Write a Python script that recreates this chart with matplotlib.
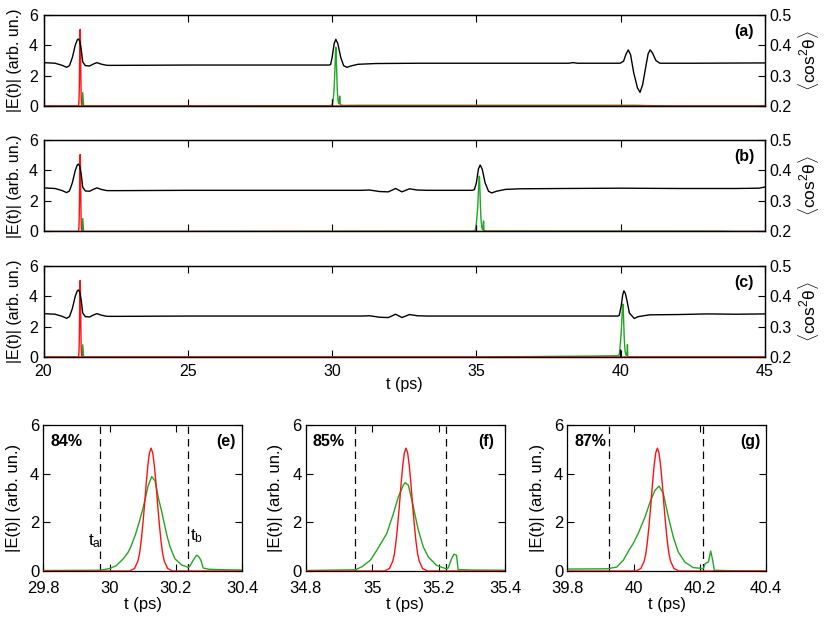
import matplotlib
matplotlib.use('Agg')
import matplotlib.pyplot as plt

plt.rcParams['font.family'] = ['Liberation Sans', 'DejaVu Sans']
plt.rcParams['mathtext.fontset'] = 'custom'
plt.rcParams['mathtext.rm'] = 'Liberation Sans'
plt.rcParams['mathtext.it'] = 'Liberation Sans:italic'
plt.rcParams['mathtext.bf'] = 'Liberation Sans:bold'
plt.rcParams['font.size'] = 11

RED = '#ff1010'
GREEN = '#22a522'

# ---------------- data: top panels, black <cos^2 theta> ----------------
cos2_head_t = [20.0, 20.4, 20.65, 20.8, 20.9, 21.0, 21.1, 21.17, 21.21, 21.26, 21.31,
               21.36, 21.45, 21.6, 21.72, 21.85, 22.0, 22.2, 22.6, 25.0]
cos2_head_v = [0.343, 0.341, 0.334, 0.3275, 0.333, 0.36, 0.40, 0.418, 0.421, 0.413, 0.385,
               0.345, 0.333, 0.332, 0.338, 0.343, 0.338, 0.334, 0.334, 0.335]

cos2_a_t = [29.9, 29.95, 30.0, 30.07, 30.13, 30.2, 30.3, 30.4, 30.51, 30.65, 30.9, 31.5,
            33.0, 35.0, 37.0, 38.2, 38.35, 38.5, 39.0, 39.98, 40.1, 40.18, 40.26, 40.34,
            40.45, 40.58, 40.67, 40.76, 40.87, 40.95, 41.02, 41.1, 41.22, 41.36, 42.5, 45.0]
cos2_a_v = [0.335, 0.337, 0.36, 0.405, 0.42, 0.405, 0.36, 0.333, 0.3275, 0.332, 0.3375, 0.34,
            0.341, 0.341, 0.341, 0.341, 0.343, 0.341, 0.341, 0.341, 0.348, 0.37, 0.385, 0.37,
            0.31, 0.26, 0.245, 0.27, 0.33, 0.372, 0.385, 0.375, 0.35, 0.341, 0.341, 0.342]

cos2_wig_t = [31.0, 31.3, 31.65, 31.95, 32.2, 32.42, 32.68, 32.95, 33.3]
cos2_wig_v = [0.335, 0.336, 0.331, 0.330, 0.341, 0.330, 0.340, 0.336, 0.335]

cos2_b_t = [34.85, 34.93, 35.0, 35.07, 35.13, 35.2, 35.3, 35.42, 35.53, 35.7, 36.0, 36.5,
            38.0, 40.0, 42.0, 44.0, 44.8, 45.0]
cos2_b_v = [0.335, 0.337, 0.36, 0.405, 0.418, 0.405, 0.36, 0.332, 0.3265, 0.332, 0.338, 0.340,
            0.341, 0.342, 0.341, 0.341, 0.342, 0.346]

cos2_c_t = [39.9, 39.95, 40.02, 40.07, 40.11, 40.16, 40.22, 40.3, 40.47, 40.6, 41.0, 42.0,
            43.0, 44.0, 45.0]
cos2_c_v = [0.335, 0.337, 0.37, 0.405, 0.418, 0.41, 0.385, 0.345, 0.327, 0.333, 0.339, 0.340,
            0.342, 0.341, 0.342]

# short black marks near the axis in the top panels
mark_t = [30.0, 34.99, 39.96]
mark_h = [0.44, 0.40, 0.50]

# ---------------- data: red input pulse (offset from its centre) ----------------
red_off = [-0.065, -0.05, -0.04, -0.035, -0.03, -0.025, -0.02, -0.015, -0.01, -0.005, 0.0,
           0.005, 0.01, 0.015, 0.02, 0.025, 0.03, 0.035, 0.04, 0.05, 0.065]
red_val = [0.0, 0.10, 0.40, 0.70, 1.22, 1.90, 2.69, 3.55, 4.31, 4.85, 5.05,
           4.85, 4.31, 3.55, 2.69, 1.90, 1.22, 0.70, 0.40, 0.10, 0.0]
red_center_top = 21.27
red_center_e = 30.125
red_center_f = 35.102
red_center_g = 40.072

# ---------------- data: green output pulses (zoomed panels) ----------------
green_e_t = [29.80, 29.97, 30.00, 30.02, 30.041, 30.055, 30.064, 30.078, 30.089, 30.10, 30.108,
             30.116, 30.127, 30.137, 30.147, 30.156, 30.164, 30.172, 30.182, 30.197, 30.217,
             30.237, 30.243, 30.25, 30.257, 30.262, 30.268, 30.275, 30.282, 30.30, 30.35, 30.40]
green_e_v = [0.02, 0.03, 0.10, 0.22, 0.50, 0.75, 1.00, 1.50, 2.00, 2.55, 3.00,
             3.50, 3.88, 3.70, 3.00, 2.50, 2.00, 1.50, 1.00, 0.50, 0.25,
             0.15, 0.22, 0.40, 0.55, 0.65, 0.60, 0.45, 0.12, 0.07, 0.05, 0.04]

green_f_t = [34.80, 34.95, 34.97, 34.984, 34.995, 35.014, 35.044, 35.064, 35.079, 35.094, 35.099,
             35.109, 35.124, 35.139, 35.154, 35.169, 35.194, 35.221, 35.229, 35.239, 35.246,
             35.254, 35.259, 35.30, 35.40]
green_f_v = [0.02, 0.05, 0.18, 0.33, 0.45, 0.85, 1.54, 2.36, 3.05, 3.53, 3.63,
             3.53, 2.64, 1.68, 0.99, 0.58, 0.23, 0.10, 0.12, 0.50, 0.69,
             0.65, 0.06, 0.04, 0.03]

green_g_t = [39.80, 39.92, 39.949, 39.969, 39.989, 39.999, 40.014, 40.035, 40.05, 40.065, 40.077,
             40.09, 40.105, 40.12, 40.135, 40.155, 40.18, 40.211, 40.216, 40.226, 40.233,
             40.239, 40.244, 40.30, 40.40]
green_g_v = [0.08, 0.09, 0.16, 0.44, 0.92, 1.13, 1.54, 2.23, 2.84, 3.32, 3.49,
             3.19, 2.23, 1.40, 0.78, 0.37, 0.14, 0.10, 0.30, 0.37, 0.82,
             0.44, 0.03, 0.01, 0.0]

# green in the overview panels outside the zoom windows
green_pre_t = [20.0, 21.33, 21.36, 21.39]
green_pre_a_v = [0.0, 0.0, 0.88, 0.0]
green_pre_b_v = [0.0, 0.0, 0.85, 0.0]
green_pre_c_v = [0.0, 0.0, 0.80, 0.0]
green_a_tail_t = [31.0, 35.0, 40.5, 41.1, 42.0, 45.0]
green_a_tail_v = [0.05, 0.05, 0.05, 0.02, 0.0, 0.0]
green_b_tail_t = [36.0, 43.3, 44.0, 45.0]
green_b_tail_v = [0.03, 0.02, 0.0, 0.0]
green_c_mid_t = [35.0, 37.0, 39.0]
green_c_mid_v = [0.0, 0.03, 0.06]
green_c_tail_t = [41.0, 45.0]
green_c_tail_v = [0.0, 0.0]

# dashed integration limits and labels for the zoomed panels
ta = [29.971, 34.948, 39.927]
tb = [30.237, 35.221, 40.211]
percent_labels = ['84%', '85%', '87%']
zoom_letters = ['(e)', '(f)', '(g)']
top_letters = ['(a)', '(b)', '(c)']
zoom_xlims = [(29.8, 30.4), (34.8, 35.4), (39.8, 40.4)]
zoom_xticks = [[29.8, 30.0, 30.2, 30.4], [34.8, 35.0, 35.2, 35.4], [39.8, 40.0, 40.2, 40.4]]
zoom_xticklabels = [['29.8', '30', '30.2', '30.4'], ['34.8', '35', '35.2', '35.4'],
                    ['39.8', '40', '40.2', '40.4']]
top_xticks = [20, 25, 30, 35, 40, 45]
top_yticks = [0, 2, 4, 6]
top_y2ticks = [0.2, 0.3, 0.4, 0.5]

# ---------------- figure ----------------
W, H = 830, 617
fig = plt.figure(figsize=(W / 100, H / 100), dpi=100)


def px_axes(left, top, right, bottom):
    return fig.add_axes([left / W, 1 - bottom / H, (right - left) / W, (bottom - top) / H])


def style(ax, fs):
    for s in ax.spines.values():
        s.set_linewidth(0.9)
    ax.tick_params(direction='in', length=5, width=0.8, labelsize=fs)


top_boxes = [(43.5, 15, 765, 106), (43.5, 140, 765, 231.5), (43.5, 266, 765, 357)]
black_sets = [
    (cos2_head_t + cos2_a_t, cos2_head_v + cos2_a_v),
    (cos2_head_t + cos2_wig_t + cos2_b_t, cos2_head_v + cos2_wig_v + cos2_b_v),
    (cos2_head_t + cos2_wig_t + cos2_c_t, cos2_head_v + cos2_wig_v + cos2_c_v),
]
green_sets = [
    (green_pre_t + green_e_t + green_a_tail_t, green_pre_a_v + green_e_v + green_a_tail_v),
    (green_pre_t + green_f_t + green_b_tail_t, green_pre_b_v + green_f_v + green_b_tail_v),
    (green_pre_t + green_c_mid_t + green_g_t + green_c_tail_t,
     green_pre_c_v + green_c_mid_v + green_g_v + green_c_tail_v),
]

red_top_t = [20.0] + [red_center_top + o for o in red_off] + [45.0]
red_top_v = [0.0] + red_val + [0.0]

for i, box in enumerate(top_boxes):
    ax = px_axes(*box)
    style(ax, 11.5)
    ax.plot(green_sets[i][0], green_sets[i][1], color=GREEN, lw=1.0, zorder=2)
    ax.plot(red_top_t, red_top_v, color=RED, lw=1.0, zorder=3)
    ax.vlines(mark_t[i], 0, mark_h[i], color='black', lw=0.9, zorder=4)
    ax.set_xlim(20, 45)
    ax.set_ylim(0, 6)
    ax.set_xticks(top_xticks)
    ax.set_yticks(top_yticks)
    ax.tick_params(top=True, right=False)
    ax.tick_params(axis='x', pad=5)
    ax.tick_params(axis='y', pad=4)
    if i < 2:
        ax.set_xticklabels([])
    ax2 = ax.twinx()
    style(ax2, 11.5)
    ax2.plot(black_sets[i][0], black_sets[i][1], color='black', lw=1.0)
    ax2.set_ylim(0.2, 0.5)
    ax2.set_yticks(top_y2ticks)
    ax2.set_yticklabels(['0.2', '0.3', '0.4', '0.5'])
    ax2.tick_params(left=False, right=True, pad=3)
    ax.text(0.958, 0.82, top_letters[i], transform=ax.transAxes, ha='left', va='center',
            fontweight='bold', fontsize=11.5)
    yc = (box[1] + box[3]) / 2
    fig.text(15 / W, 1 - yc / H, '|E(t)| (arb. un.)', rotation=90, ha='center', va='center',
             fontsize=11.5)
    fig.text(808 / W, 1 - yc / H, r'$\langle$cos$^{2}$θ$\rangle$', rotation=90,
             ha='center', va='center', fontsize=12.5)

fig.text(404 / W, 1 - 384 / H, 't (ps)', ha='center', va='center', fontsize=11.5)

zoom_boxes = [(43.3, 425, 242.3, 571), (305.7, 425, 505, 571), (567.3, 425, 766, 571)]
green_zoom = [(green_e_t, green_e_v), (green_f_t, green_f_v), (green_g_t, green_g_v)]
red_centers = [red_center_e, red_center_f, red_center_g]

for i, box in enumerate(zoom_boxes):
    ax = px_axes(*box)
    style(ax, 12)
    x0, x1 = zoom_xlims[i]
    ax.plot(green_zoom[i][0], green_zoom[i][1], color=GREEN, lw=1.0, zorder=2)
    rt = [x0] + [red_centers[i] + o for o in red_off] + [x1]
    rv = [0.0] + red_val + [0.0]
    ax.plot(rt, rv, color=RED, lw=1.0, zorder=3)
    ax.axvline(ta[i], color='black', lw=0.9, ls=(0, (6, 4)), zorder=1)
    ax.axvline(tb[i], color='black', lw=0.9, ls=(0, (6, 4)), zorder=1)
    ax.set_xlim(x0, x1)
    ax.set_ylim(0, 6)
    ax.set_xticks(zoom_xticks[i])
    ax.set_xticklabels(zoom_xticklabels[i])
    ax.set_yticks([0, 2, 4, 6])
    ax.tick_params(top=True, right=True)
    ax.tick_params(axis='x', pad=7)
    ax.tick_params(axis='y', pad=3)
    ax.text(0.035, 0.885, percent_labels[i], transform=ax.transAxes, ha='left', va='center',
            fontweight='bold', fontsize=11.5)
    ax.text(0.868, 0.885, zoom_letters[i], transform=ax.transAxes, ha='left', va='center',
            fontweight='bold', fontsize=11.5)
    if i == 0:
        ax.text(ta[i] + 0.004, 1.05, r'$\mathrm{t_a}$', ha='right', va='baseline', fontsize=12.5)
        ax.text(tb[i] + 0.004, 1.25, r'$\mathrm{t_b}$', ha='left', va='baseline', fontsize=12.5)
    yc = (box[1] + box[3]) / 2
    fig.text((box[0] - 30) / W, 1 - yc / H, '|E(t)| (arb. un.)', rotation=90,
             ha='center', va='center', fontsize=12)
    fig.text((box[0] + box[2]) / 2 / W, 1 - 604 / H, 't (ps)', ha='center', va='center',
             fontsize=12)

fig.savefig('out.png', dpi=100)
